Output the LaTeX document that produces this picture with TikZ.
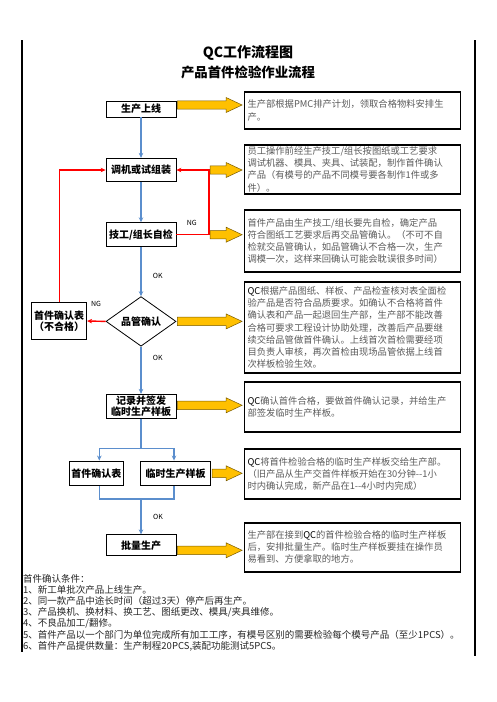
\documentclass[tikz,border=0pt]{standalone}
\usepackage{fontspec}
\setmainfont{Noto Sans CJK SC}
\newfontfamily\cjk{Noto Sans CJK SC}
\usetikzlibrary{shapes.geometric,arrows.meta,calc}
\definecolor{flowblue}{RGB}{91,142,205}
\definecolor{ygold}{RGB}{255,192,0}
\definecolor{yedge}{RGB}{120,90,0}
\definecolor{txtgray}{RGB}{90,90,90}
\newcommand\qcb{{\color{black}QC}}
\begin{document}
\begin{tikzpicture}[x=1pt,y=-1pt,
  flow/.style={draw=black, line width=0.8pt, fill=white, font=\cjk\bfseries\fontsize{10}{11.5}\selectfont, align=center, inner sep=0pt, minimum width=70pt},
  note/.style={draw=black, line width=1.8pt, text width=210pt, inner xsep=3pt, inner ysep=0pt, align=left, font=\cjk\fontsize{9.3}{12.2}\selectfont, text=txtgray},
  blueline/.style={draw=flowblue, line width=1.6pt},
  bluearr/.style={blueline, -{Stealth[length=5pt,width=4.5pt]}},
  redarr/.style={draw=red, line width=1.4pt, -{Stealth[length=5pt,width=4.5pt]}},
  lbl/.style={font=\cjk\fontsize{7}{8}\selectfont, inner sep=0pt},
  yarrow/.style={draw=yedge, line width=0.5pt, fill=ygold,
    to path={let \p1=(\tikztostart), \p2=(\tikztotarget) in
      (\x1,\y1+4.2pt) -- (\x2-17.5pt,\y1+4.2pt) -- (\x2-17.5pt,\y1+7.5pt) -- (\x2-1.5pt,\y1)
      -- (\x2-17.5pt,\y1-7.5pt) -- (\x2-17.5pt,\y1-4.2pt) -- (\x1,\y1-4.2pt) -- cycle}}
]
\useasboundingbox (0,0) rectangle (496,702);

% page border lines
\draw[line width=1.2pt] (22,40) -- (22,652);
\draw[line width=1.2pt] (475,40) -- (475,656);

% titles
\node[font=\cjk\bfseries\fontsize{14}{16}\selectfont] (title) at (248,52.7) {QC工作流程图};
\node[font=\cjk\bfseries\fontsize{13.4}{15}\selectfont] (sub) at (248,72.7) {产品首件检验作业流程};

% flow boxes
\node[flow, minimum height=16pt] (b1) at (141,109) {生产上线};
\node[flow, minimum height=23.4pt] (b2) at (141,170) {调机或试组装};
\node[flow, minimum height=24pt] (b3) at (141,234.7) {技工/组长自检};
\node[diamond, draw=black, line width=0.8pt, fill=white, minimum width=70pt, minimum height=37pt, inner sep=0pt, font=\cjk\bfseries\fontsize{10}{11.5}\selectfont] (d) at (141,321.4) {品管确认};
\node[flow, minimum width=55pt, minimum height=36.6pt] (ng) at (59.2,321) {首件确认表\\（不合格）};
\node[flow, minimum height=24pt] (b5) at (141,406.3) {记录并签发\\临时生产样板};
\node[flow, minimum width=54pt, minimum height=24.7pt] (b6a) at (96.3,473.3) {首件确认表};
\node[flow, minimum width=70.4pt, minimum height=24.7pt] (b6b) at (175.5,473.3) {临时生产样板};
\node[flow, minimum height=21pt] (b7) at (141,545.3) {批量生产};

% note boxes
\node[note, minimum height=37.6pt] (t1) at (352.5,110.5) {生产部根据PMC排产计划，领取合格物料安排生\\产。};
\node[note, minimum height=49.3pt] (t2) at (352.5,169.3) {员工操作前经生产技工/组长按图纸或工艺要求\\调试机器、模具、夹具、试装配，制作首件确认\\产品（有模号的产品不同模号要各制作1件或多\\件）。};
\node[note, minimum height=62pt] (t3) at (352.5,241) {首件产品由生产技工/组长要先自检，确定产品\\符合图纸工艺要求后再交品管确认。（不可不自\\检就交品管确认，如品管确认不合格一次，生产\\调模一次，这样来回确认可能会耽误很多时间）};
\node[note, minimum height=91.6pt] (t4) at (352.5,327.5) {\qcb 根据产品图纸、样板、产品检查核对表全面检\\验产品是否符合品质要求。如确认不合格将首件\\确认表和产品一起退回生产部，生产部不能改善\\合格可要求工程设计协助处理，改善后产品要继\\续交给品管做首件确认。上线首次首检需要经项\\目负责人审核，再次首检由现场品管依据上线首\\次样板检验生效。};
\node[note, minimum height=50pt] (t5) at (352.5,406.7) {\qcb 确认首件合格，要做首件确认记录，并给生产\\部签发临时生产样板。};
\node[note, minimum height=49.4pt] (t6) at (352.5,474) {\qcb 将首件检验合格的临时生产样板交给生产部。\\（旧产品从生产交首件样板开始在30分钟{-}{-}1小\\时内确认完成，新产品在1{-}{-}4小时内完成）};
\node[note, minimum height=49pt] (t7) at (352.5,547.2) {生产部在接到\qcb 的首件检验合格的临时生产样板\\后，安排批量生产。临时生产样板要挂在操作员\\易看到、方便拿取的地方。};

% labels
\node[lbl] (ng1) at (191.7,223) {NG};
\node[lbl] (ng2) at (96,304.3) {NG};
\node[lbl] (ok1) at (157.7,276) {OK};
\node[lbl] (ok2) at (157.7,357.7) {OK};
\node[lbl] (ok3) at (158,516.7) {OK};

% blue flow connectors
\draw[bluearr] (b1) -- (b2);
\draw[bluearr] (b2) -- (b3);
\draw[bluearr] (b3) -- (d);
\draw[bluearr] (d) -- (b5);
\coordinate (split) at (141,448.3);
\draw[blueline] (b5.south) -- (split);
\draw[bluearr] (split) -| ([xshift=3pt]b6a.north);
\draw[bluearr] (split) -| ([xshift=-1.5pt]b6b.north);
\coordinate (merge) at (141,499);
\draw[blueline] ([xshift=3pt]b6a.south) |- (merge) -| ([xshift=-1.5pt]b6b.south);
\draw[bluearr] (merge) -- (b7.north);

% red NG connectors
\coordinate (r3) at (209,234.7);
\coordinate (r2) at (209,170);
\draw[redarr] (b3.east) -- (r3) |- (b2.east);
\draw[redarr] (d.west) -- (ng.east);
\draw[redarr] (ng.north) |- (b2.west);

% yellow arrows
\draw[yarrow] ([xshift=1pt,yshift=4pt]b1.east) to (t1.west);
\draw[yarrow] ([xshift=1pt]r2) to (t2.west);
\draw[yarrow] ([xshift=1pt]r3) to (t3.west);
\draw[yarrow] ([xshift=1pt]d.east) to (t4.west);
\draw[yarrow] ([xshift=1pt,yshift=1pt]b5.east) to (t5.west);
\draw[yarrow] ([xshift=1pt]b6b.east) to (t6.west);
\draw[yarrow] ([xshift=1pt,yshift=-5pt]b7.east) to (t7.west);

% conditions
\node[anchor=west, align=left, inner sep=0pt, font=\cjk\fontsize{9.5}{11.2}\selectfont, text=black!85] (cond) at (23,612.6) {首件确认条件：\\1、新工单批次产品上线生产。\\2、同一款产品中途长时间（超过3天）停产后再生产。\\3、产品换机、换材料、换工艺、图纸更改、模具/夹具维修。\\4、不良品加工/翻修。\\5、首件产品以一个部门为单位完成所有加工工序，有模号区别的需要检验每个模号产品（至少1PCS）。\\6、首件产品提供数量：生产制程20PCS,装配功能测试5PCS。};
\end{tikzpicture}
\end{document}
